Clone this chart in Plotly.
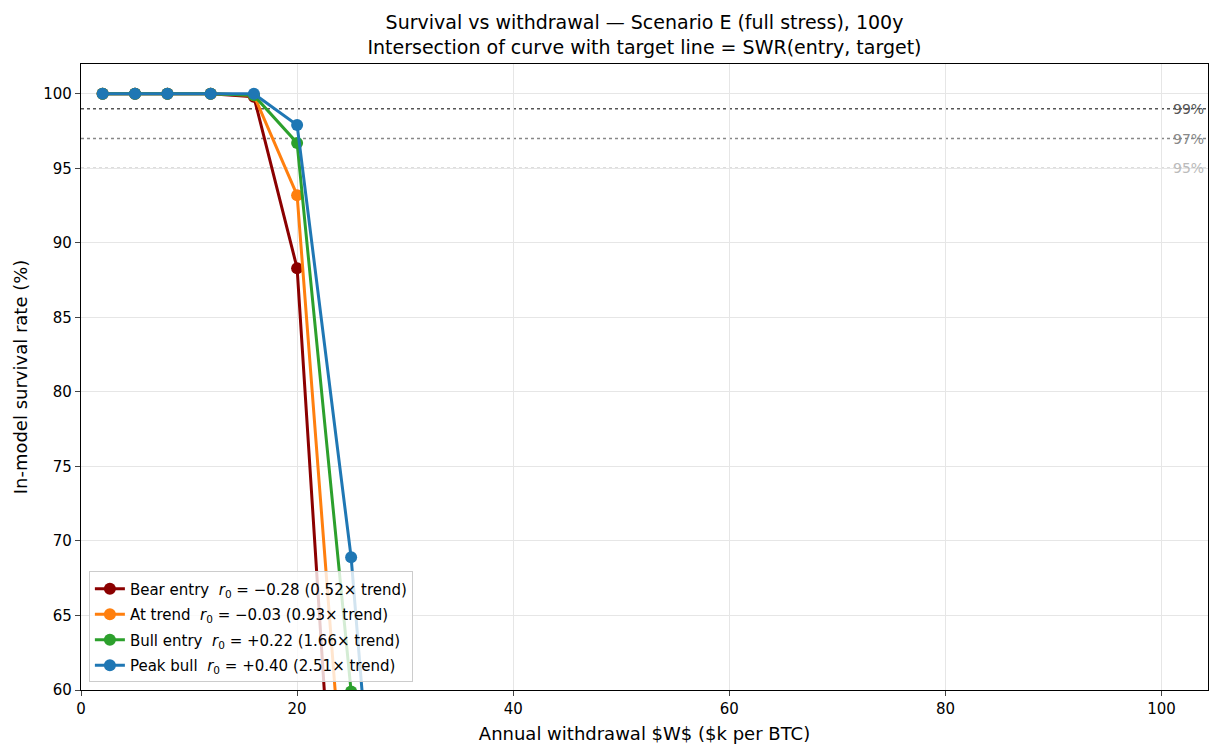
import plotly.graph_objects as go

withdrawal = [2, 5, 8, 12, 16, 20, 25, 30]
bear = [100.0, 100.0, 100.0, 100.0, 99.8, 88.3, 32.0, 5.0]
at_trend = [100.0, 100.0, 100.0, 100.0, 99.9, 93.2, 46.0, 10.0]
bull = [100.0, 100.0, 100.0, 100.0, 99.9, 96.7, 59.9, 18.0]
peak = [100.0, 100.0, 100.0, 100.0, 100.0, 97.9, 68.9, 24.5]

series_names = [
    "Bear entry  <i>r</i><sub>0</sub> = −0.28 (0.52× trend)",
    "At trend  <i>r</i><sub>0</sub> = −0.03 (0.93× trend)",
    "Bull entry  <i>r</i><sub>0</sub> = +0.22 (1.66× trend)",
    "Peak bull  <i>r</i><sub>0</sub> = +0.40 (2.51× trend)",
]
series_values = [bear, at_trend, bull, peak]
series_colors = ["#8b0000", "#ff7f0e", "#2ca02c", "#1f77b4"]

targets = [99, 97, 95]
target_labels = ["99%", "97%", "95%"]
target_colors = ["#555555", "#888888", "#bbbbbb"]

x_ticks = [0, 20, 40, 60, 80, 100]
y_ticks = [60, 65, 70, 75, 80, 85, 90, 95, 100]

FONT = "DejaVu Sans"
fig = go.Figure()

for t, c in zip(targets, target_colors):
    fig.add_shape(type="line", xref="paper", x0=0, x1=1, yref="y", y0=t, y1=t,
                  line=dict(color=c, width=1.5, dash="dot"), layer="below")

for i, (name, vals, col) in enumerate(zip(series_names, series_values, series_colors)):
    fig.add_trace(go.Scatter(
        x=withdrawal, y=vals, name=name, mode="lines+markers",
        legendgroup=f"g{i}",
        line=dict(color=col, width=3),
        marker=dict(color=col, size=12),
    ))

for t, lab, c in zip(targets, target_labels, target_colors):
    fig.add_annotation(x=100.9, y=t, text=lab, showarrow=False, xanchor="left",
                       yanchor="middle", font=dict(family=FONT, size=14, color=c))

fig.update_layout(
    width=1209, height=744,
    margin=dict(l=81, r=1, t=64, b=54, autoexpand=False),
    paper_bgcolor="white", plot_bgcolor="white",
    font=dict(family=FONT, size=15, color="black"),
    title=dict(
        text="Survival vs withdrawal — Scenario E (full stress), 100y<br>Intersection of curve with target line = SWR(entry, target)",
        x=0.5, xref="paper", xanchor="center", y=0.961, yanchor="top",
        font=dict(family=FONT, size=19, color="black"),
    ),
    showlegend=True,
    legend=dict(
        x=0.007, y=0.012, xanchor="left", yanchor="bottom",
        bgcolor="rgba(255,255,255,0.8)", bordercolor="#cccccc", borderwidth=1,
        font=dict(family=FONT, size=15), tracegroupgap=3,
    ),
)
fig.update_xaxes(
    range=[0, 104.3], tickvals=x_ticks, ticks="outside", ticklen=5,
    showgrid=True, gridcolor="#e6e6e6", gridwidth=1,
    showline=True, linecolor="black", linewidth=1.2, mirror=True,
    zeroline=False, automargin=False,
    title=dict(text="Annual withdrawal $W$ ($k per BTC)", standoff=10),
    tickfont=dict(size=15),
)
fig.update_yaxes(
    range=[60, 102], tickvals=y_ticks, ticks="outside", ticklen=5,
    showgrid=True, gridcolor="#e6e6e6", gridwidth=1,
    showline=True, linecolor="black", linewidth=1.2, mirror=True,
    zeroline=False, automargin=False,
    title=dict(text="In-model survival rate (%)", standoff=10),
    tickfont=dict(size=15),
)

fig.write_html(
    "out.html",
    config={"displayModeBar": False},
    post_script="document.body.style.margin='0';document.body.style.padding='0';document.body.style.overflow='hidden';",
)
